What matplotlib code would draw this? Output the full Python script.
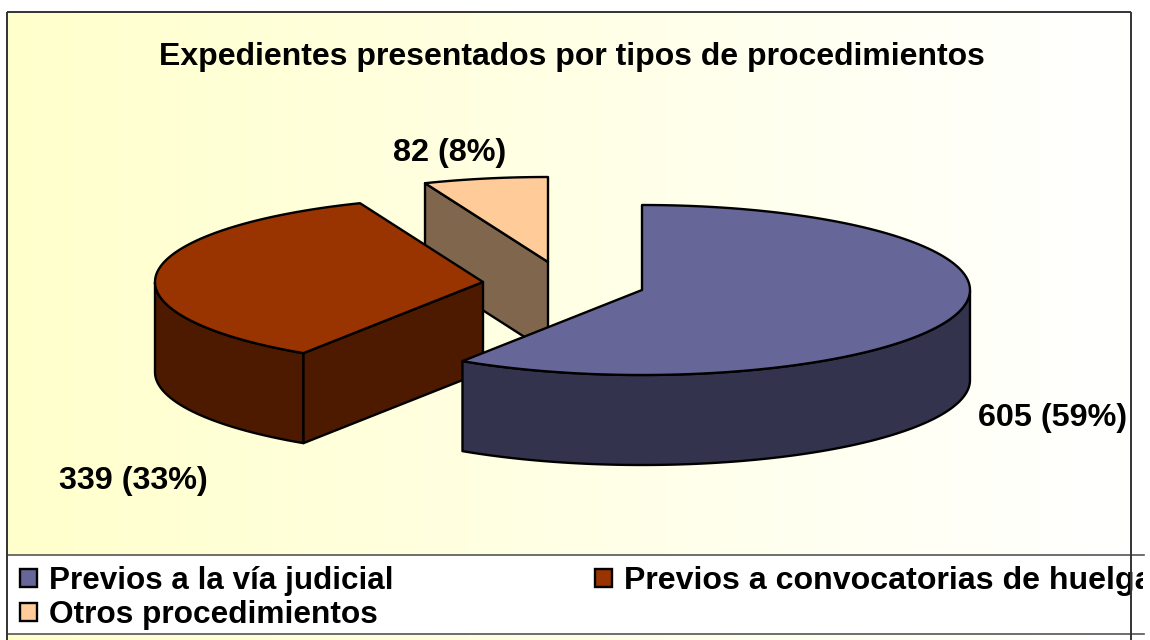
#!/usr/bin/env python
# coding: utf-8
import numpy as np
import matplotlib
matplotlib.use("Agg")
import matplotlib.pyplot as plt
from matplotlib.colors import LinearSegmentedColormap, to_rgb
from matplotlib.patches import Polygon, Rectangle

# datos
titulo = "Expedientes presentados por tipos de procedimientos"
categorias = ["Previos a la vía judicial", "Previos a convocatorias de huelga", "Otros procedimientos"]
valores = [605, 339, 82]
colores = ["#666699", "#993300", "#FFCC99"]

# posicion de cada porcion (centro desplazado) y de sus etiquetas, en pixeles
centros = [(642, 290), (483, 282), (548, 262)]
pos_etiquetas = [(1053, 426), (133, 489), (450, 161)]
pos_leyenda = [(20, 569), (595, 569), (20, 603)]
tam_leyenda = [22.6, 23.1, 22.8]
RX, RY, FONDO = 328, 85, 90

plt.rcParams["font.family"] = ["Liberation Sans", "DejaVu Sans"]
plt.rcParams["font.weight"] = "bold"

fig = plt.figure(figsize=(11.5, 6.4), dpi=100, facecolor="white")
ax = fig.add_axes([0, 0, 1, 1])
ax.set_xlim(0, 1150)
ax.set_ylim(640, 0)
ax.axis("off")

# fondo degradado
cmap = LinearSegmentedColormap.from_list("fondo", ["#FFFFCC", "#FFFFFF"])
ax.imshow(np.linspace(0, 1, 256).reshape(1, -1), extent=(8, 1131, 640, 13), cmap=cmap, aspect="auto", zorder=0)
ax.set_xlim(0, 1150)
ax.set_ylim(640, 0)


def proyectar(t, c):
    # la perspectiva del original desplaza un poco los angulos de la mitad izquierda
    s, co = np.sin(t), np.cos(t)
    giro = np.where(s < 0, np.where(co > 0, np.radians(8.0), np.radians(1.0)) * np.abs(np.sin(2 * t)), 0.0)
    return c[0] + RX * np.sin(t + giro), c[1] - RY * np.cos(t + giro)


def cara(xs, ys, color):
    ax.add_patch(Polygon(np.column_stack([xs, ys]), closed=True, facecolor=color, edgecolor="black", lw=1.7, joinstyle="round", zorder=2))


fin = np.cumsum(valores) / np.sum(valores) * 2 * np.pi
ini = np.r_[0, fin[:-1]]

# se dibuja de atras hacia delante
for i in [2, 1, 0]:
    t = np.linspace(ini[i], fin[i], 200)
    x, y = proyectar(t, centros[i])
    cx, cy = centros[i]
    oscuro = tuple(v * 0.5 for v in to_rgb(colores[i]))
    # pared exterior, solo la parte que mira al frente
    frente = np.gradient(x) < 0
    if frente.any():
        xf, yf = x[frente], y[frente]
        cara(np.r_[xf, xf[::-1]], np.r_[yf, yf[::-1] + FONDO], oscuro)
    # caras de corte visibles
    if np.sin(ini[i]) < -1e-6:
        cara([cx, x[0], x[0], cx], [cy, y[0], y[0] + FONDO, cy + FONDO], oscuro)
    if np.sin(fin[i]) > 1e-6:
        cara([cx, x[-1], x[-1], cx], [cy, y[-1], y[-1] + FONDO, cy + FONDO], oscuro)
    cara(np.r_[cx, x], np.r_[cy, y], colores[i])

# titulo y etiquetas
ax.text(572, 65, titulo, ha="center", va="baseline", fontsize=23, color="black", zorder=5)
total = sum(valores)
for v, p in zip(valores, pos_etiquetas):
    ax.text(p[0], p[1], "%d (%d%%)" % (v, round(100 * v / total)), ha="center", va="baseline", fontsize=23.3, color="black", zorder=5)

# leyenda
ax.add_patch(Rectangle((8, 555), 1136, 79, facecolor="white", edgecolor="none", zorder=3))
ax.plot([8, 1144], [555, 555], color="#555555", lw=1.2, zorder=4)
ax.plot([8, 1144], [634, 634], color="#555555", lw=1.2, zorder=4)
for nombre, color, p, tam in zip(categorias, colores, pos_leyenda, tam_leyenda):
    ax.add_patch(Rectangle(p, 17, 18, facecolor=color, edgecolor="black", lw=1.7, zorder=4))
    txt = ax.text(p[0] + 29, p[1] + 20, nombre, ha="left", va="baseline", fontsize=tam, color="black", zorder=5)
    # el original corta el texto en el borde de la leyenda
    txt.set_clip_on(True)
    txt.set_clip_path(Rectangle((8, 555), 1135, 79, transform=ax.transData))

# marco del grafico
ax.plot([7, 7], [640, 12], color="#333333", lw=1.4, zorder=6, solid_capstyle="butt")
ax.plot([7, 1131], [12, 12], color="#333333", lw=1.4, zorder=6, solid_capstyle="butt")
ax.plot([1131, 1131], [12, 640], color="#333333", lw=1.4, zorder=6, solid_capstyle="butt")

fig.savefig("out.png", dpi=100)
